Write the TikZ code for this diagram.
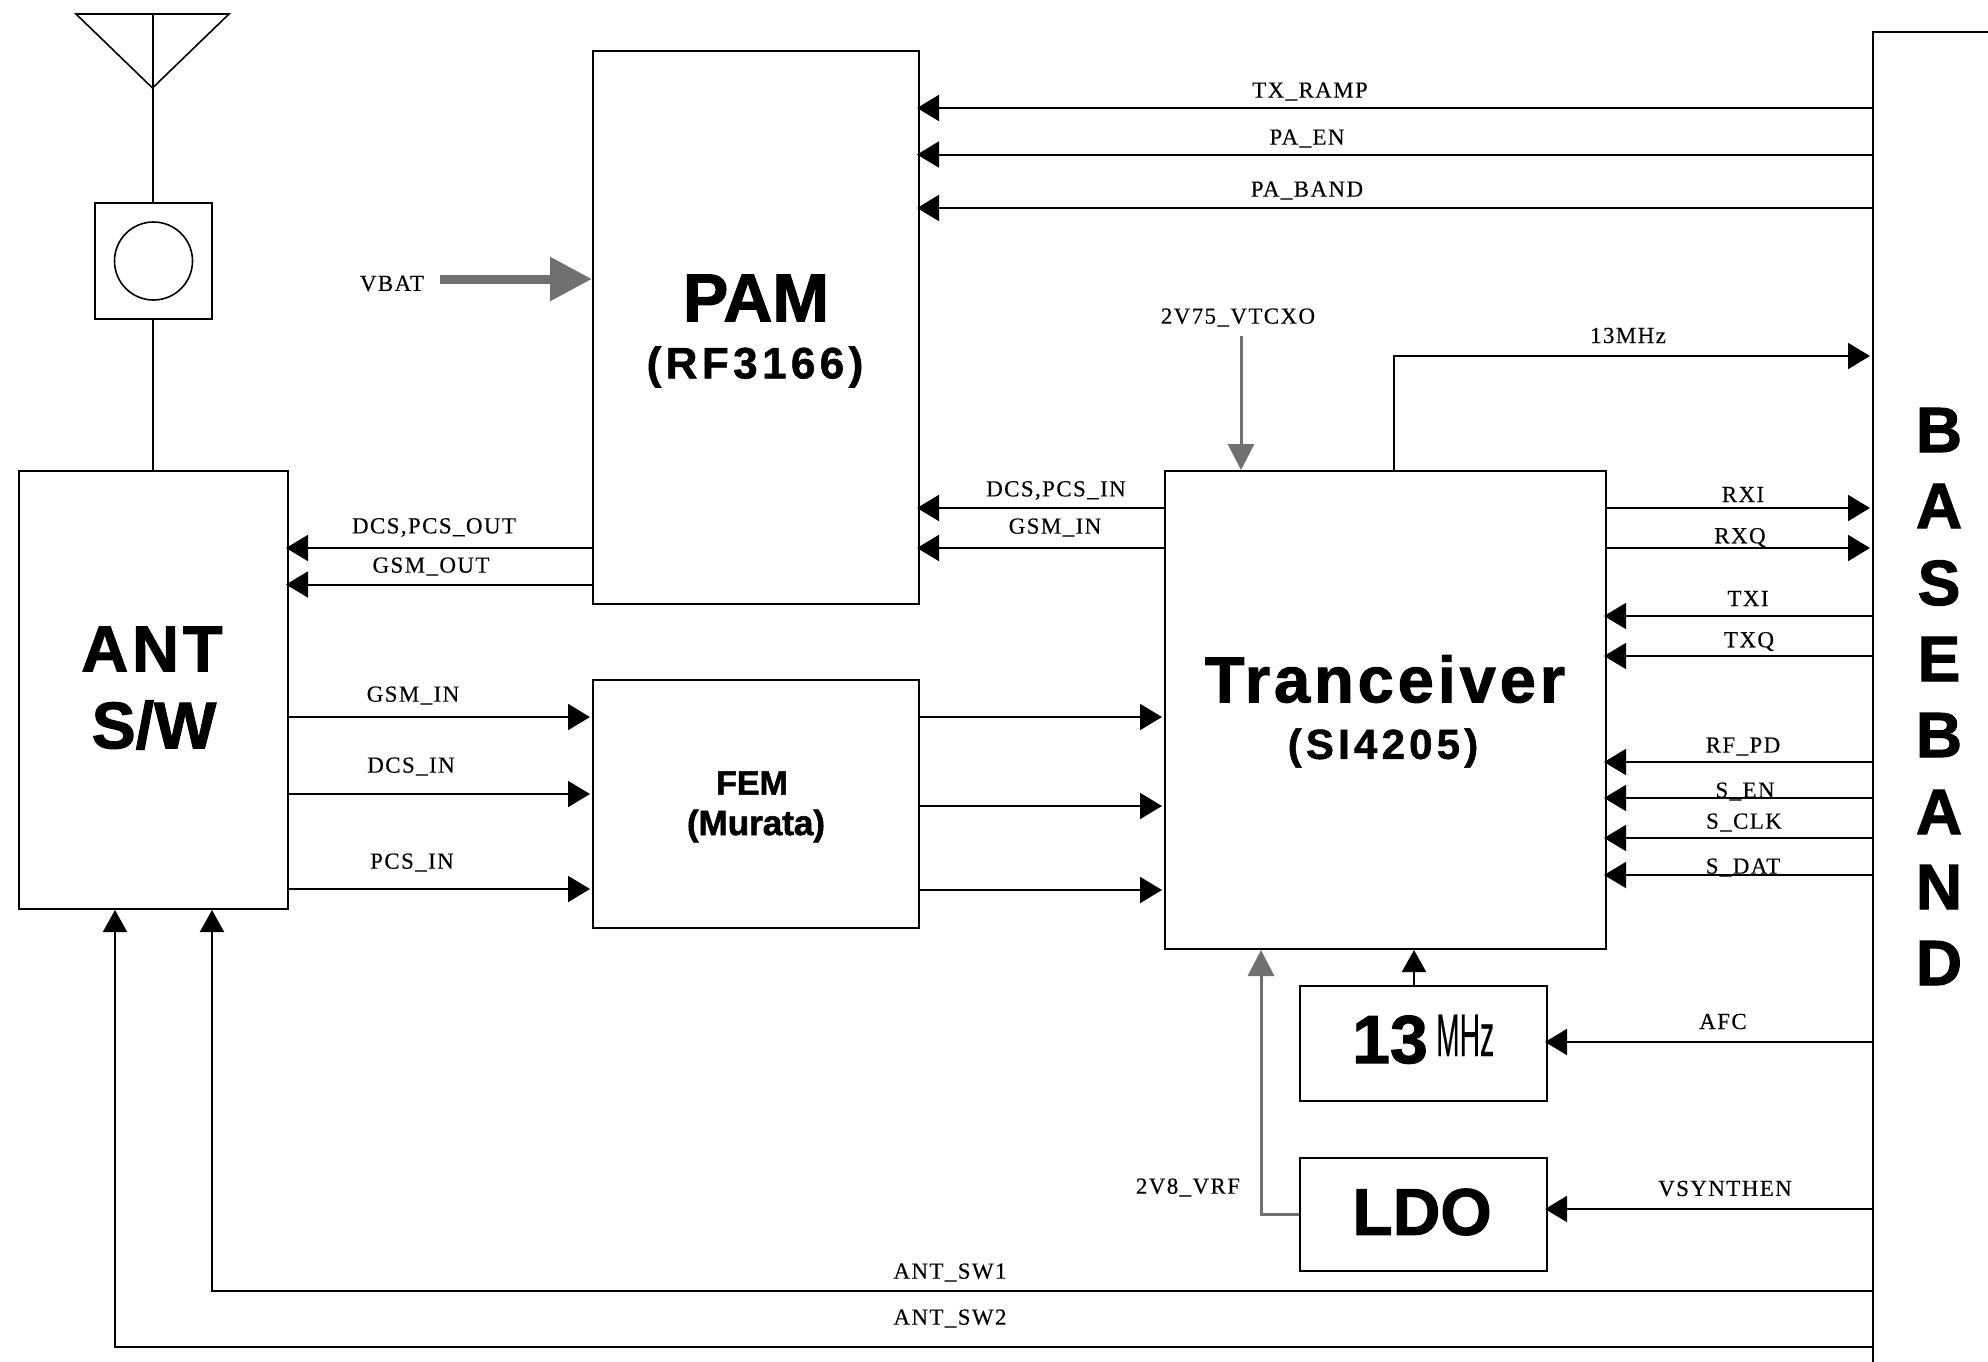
\documentclass[tikz,border=0pt]{standalone}
\usepackage{fontspec}
\usepackage{graphicx}
\usetikzlibrary{arrows.meta}
\setmainfont{Liberation Serif}
\newfontfamily\labfont[LetterSpace=6,FakeBold=0.25]{Liberation Serif}
\newfontfamily\headfont[FakeBold=1.6]{Liberation Sans Bold}
\newfontfamily\mhzfont[FakeBold=0.5]{Liberation Sans}
\newfontfamily\wideA[LetterSpace=6,FakeBold=1.6]{Liberation Sans Bold}
\newfontfamily\wideB[LetterSpace=10,FakeBold=1.2]{Liberation Sans Bold}
\definecolor{greyline}{HTML}{707070}
\tikzset{
  box/.style={draw=black,line width=2pt,fill=white,inner sep=0pt},
  wire/.style={draw=black,line width=2pt},
  sigl/.style={wire,shorten >=-3pt,-{Triangle[length=22pt,width=26pt]}},
  sigr/.style={wire,shorten >=2pt,-{Triangle[length=22pt,width=26pt]}},
  sigu/.style={wire,-{Triangle[length=22pt,width=24pt]}},
  greysig/.style={draw=greyline,line width=3pt,-{Triangle[length=26pt,width=26pt]}},
  lab/.style={inner sep=0pt,yshift=-1.5pt,font=\fontsize{23}{26}\selectfont\labfont},
  head/.style={inner sep=0pt,font=\fontsize{66}{70}\selectfont\headfont},
  letter/.style={inner sep=0pt,font=\fontsize{64}{70}\selectfont\headfont},
}
\begin{document}
\begin{tikzpicture}[x=1pt,y=-1pt]
\useasboundingbox (0,0) rectangle (1988,1361);
\clip (0,0) rectangle (1988,1361);
\fill[white] (0,0) rectangle (1988,1361);

% blocks
\node[box,minimum width=269pt,minimum height=438pt] (ant) at (153.5,690) {};
\node[box,minimum width=117pt,minimum height=116pt] (conn) at (153.5,261) {};
\node[draw=black,line width=1.6pt,circle,minimum size=78pt,inner sep=0pt] (circ) at (153.5,261) {};
\node[box,minimum width=326pt,minimum height=553pt] (pam) at (756,327.5) {};
\node[box,minimum width=326pt,minimum height=248pt] (fem) at (756,804) {};
\node[box,minimum width=441pt,minimum height=478pt] (trx) at (1385.5,710) {};
\node[box,minimum width=247pt,minimum height=115pt] (osc) at (1423.5,1043.5) {};
\node[box,minimum width=247pt,minimum height=113pt] (ldo) at (1423.5,1214.5) {};
\node[box,minimum width=200pt,minimum height=1500pt] (bb) at (1973,782) {};

% antenna
\coordinate (apex) at (152.5,88);
\coordinate (tl) at (76,14);
\coordinate (tr) at (229,14);
\coordinate (tm) at (152.5,14);
\draw[wire,line width=1.6pt,line join=miter] (tl) -- (tr) -- (apex) -- cycle;
\draw[wire] (tm) -- (apex);
\draw[wire] (apex) -- (apex |- conn.north);
\draw[wire] (conn.south -| apex) -- (apex |- ant.north);

% baseband to PAM
\draw[sigl] (bb.west |- 0,108) -- (pam.east |- 0,108);
\draw[sigl] (bb.west |- 0,154.5) -- (pam.east |- 0,154.5);
\draw[sigl] (bb.west |- 0,208) -- (pam.east |- 0,208);

% VBAT
\node[lab] (vbat) at (392,282) {VBAT};
\draw[draw=greyline,line width=9pt,-{Triangle[length=42pt,width=42pt]}] (440,279) -- (pam.west |- 0,279);

% PAM <-> ANT
\draw[sigl] (pam.west |- 0,548) -- (ant.east |- 0,548);
\draw[sigl] (pam.west |- 0,584.5) -- (ant.east |- 0,584.5);

% TRX -> PAM
\draw[sigl] (trx.west |- 0,508) -- (pam.east |- 0,508);
\draw[sigl] (trx.west |- 0,548) -- (pam.east |- 0,548);

% ANT -> FEM
\draw[sigr] (ant.east |- 0,717) -- (fem.west |- 0,717);
\draw[sigr] (ant.east |- 0,794) -- (fem.west |- 0,794);
\draw[sigr] (ant.east |- 0,889) -- (fem.west |- 0,889);

% FEM -> TRX
\draw[sigr] (fem.east |- 0,717) -- (trx.west |- 0,717);
\draw[sigr] (fem.east |- 0,806) -- (trx.west |- 0,806);
\draw[sigr] (fem.east |- 0,890) -- (trx.west |- 0,890);

% TRX -> baseband
\draw[sigr] (trx.north -| 1394,0) -- (1394,356) -- (bb.west |- 0,356);
\draw[sigr] (trx.east |- 0,508) -- (bb.west |- 0,508);
\draw[sigr] (trx.east |- 0,548) -- (bb.west |- 0,548);

% baseband -> TRX
\foreach \yy in {616,656,762,798,838,875}
  \draw[sigl] (bb.west |- 0,\yy) -- (trx.east |- 0,\yy);

% grey supplies
\node[lab] (vtcxo) at (1238,316) {2V75\_VTCXO};
\coordinate (vstart) at (1241,336);
\draw[greysig] (vstart) -- (vstart |- trx.north);
\draw[greysig] (ldo.west |- 0,1214) -- (1261,1214) -- (1261,0 |- trx.south);

% osc / ldo
\draw[sigu] (osc.north -| 1414,0) -- (1414,0 |- trx.south);
\draw[sigl] (bb.west |- 0,1042) -- (osc.east |- 0,1042);
\draw[sigl] (bb.west |- 0,1209) -- (ldo.east |- 0,1209);

% antenna switch control
\draw[sigu] (bb.west |- 0,1291) -- (212,1291) -- (212,0 |- ant.south);
\draw[sigu] (bb.west |- 0,1347) -- (115,1347) -- (115,0 |- ant.south);

% block titles
\node[inner sep=0pt,font=\fontsize{68}{70}\selectfont\headfont] (tpam) at (756,298) {PAM};
\node[inner sep=0pt,font=\fontsize{44}{48}\selectfont\wideB] (tpam2) at (755,367) {(RF3166)};
\node[inner sep=0pt,font=\fontsize{65}{70}\selectfont\wideA] (ttrx) at (1385,679) {Tranceiver};
\node[inner sep=0pt,font=\fontsize{42}{48}\selectfont\wideB] (ttrx2) at (1383,748) {(SI4205)};
\node[inner sep=0pt,font=\fontsize{65}{70}\selectfont\wideA] (tant) at (152,649) {ANT};
\node[head] (tsw) at (154,725) {S/W};
\node[inner sep=0pt,font=\fontsize{34}{38}\selectfont\headfont] (tfem) at (752,783) {FEM};
\node[inner sep=0pt,font=\fontsize{35}{38}\selectfont\headfont] (tmur) at (756,826) {(Murata)};
\node[inner sep=0pt,anchor=base west,font=\fontsize{68}{70}\selectfont\headfont] (t13) at (1352,1063) {13};
\node[anchor=base west,inner sep=0pt,font=\fontsize{60}{60}\selectfont\mhzfont] (tmhz) at (1436,1056) {\scalebox{0.47}[1]{MHz}};
\node[head] (tldo) at (1422,1212) {LDO};

% BASEBAND letters
\node[letter] (b1) at (1939,430) {B};
\node[letter] (b2) at (1939,506) {A};
\node[letter] (b3) at (1939,583) {S};
\node[letter] (b4) at (1939,659) {E};
\node[letter] (b5) at (1939,735) {B};
\node[letter] (b6) at (1939,812) {A};
\node[letter] (b7) at (1939,887) {N};
\node[letter] (b8) at (1939,963) {D};

% signal labels
\node[lab] (l1) at (1310,90) {TX\_RAMP};
\node[lab] (l2) at (1307,137) {PA\_EN};
\node[lab] (l3) at (1307,189) {PA\_BAND};
\node[lab] (l4) at (1628,334) {13MHz};
\node[lab] (l5) at (1056,489) {DCS,PCS\_IN};
\node[lab] (l6) at (1055,526) {GSM\_IN};
\node[lab] (l7) at (434,526) {DCS,PCS\_OUT};
\node[lab] (l8) at (431,565) {GSM\_OUT};
\node[lab] (l9) at (1743,493) {RXI};
\node[lab] (l10) at (1740,536) {RXQ};
\node[lab] (l11) at (1748,597) {TXI};
\node[lab] (l12) at (1749,640) {TXQ};
\node[lab] (l13) at (1743,745) {RF\_PD};
\node[lab] (l14) at (1745,790) {S\_EN};
\node[lab] (l15) at (1744,821) {S\_CLK};
\node[lab] (l16) at (1743,866) {S\_DAT};
\node[lab] (l17) at (1723,1020) {AFC};
\node[lab] (l18) at (1725,1187) {VSYNTHEN};
\node[lab] (l19) at (1188,1186) {2V8\_VRF};
\node[lab] (l20) at (950,1271) {ANT\_SW1};
\node[lab] (l21) at (950,1317) {ANT\_SW2};
\node[lab] (l22) at (413,694) {GSM\_IN};
\node[lab] (l23) at (411,765) {DCS\_IN};
\node[lab] (l24) at (412,861) {PCS\_IN};
\end{tikzpicture}
\end{document}
